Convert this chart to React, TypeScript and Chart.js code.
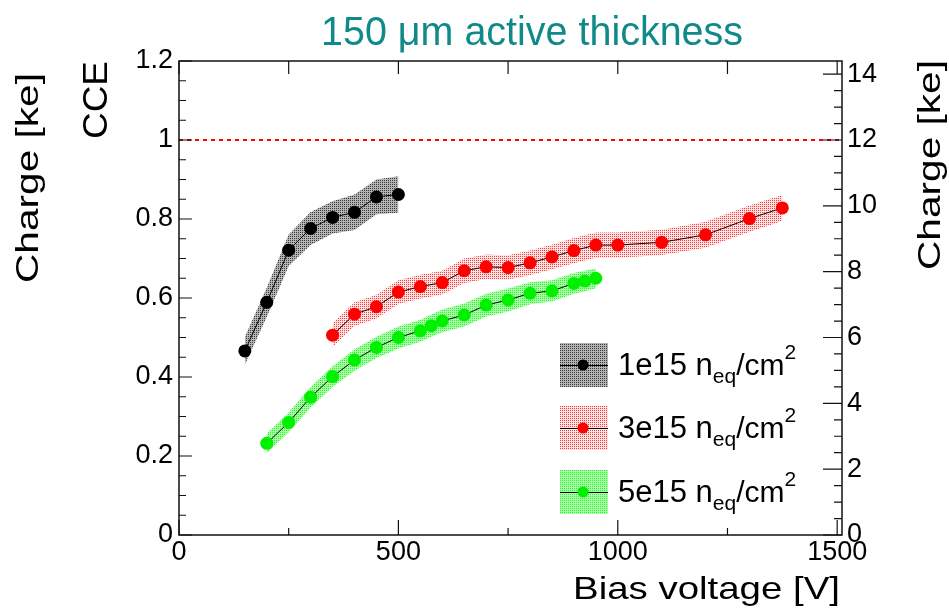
import { useEffect, useRef } from "react";
import { Chart, registerables } from "chart.js";

Chart.register(...registerables);

// ---------- text ----------
const TITLE = "150 \u03bcm active thickness";
const X_TITLE = "Bias voltage [V]";
const Y_TITLE_LEFT = "Charge [ke]";
const Y_TITLE_LEFT_INNER = "CCE";
const Y_TITLE_RIGHT = "Charge [ke]";

// ---------- ticks ----------
const X_TICKS = [0, 500, 1000, 1500];
const Y_TICKS = [0, 0.2, 0.4, 0.6, 0.8, 1, 1.2];
const Y2_TICKS = [0, 2, 4, 6, 8, 10, 12, 14];
const REFERENCE_CCE = 1;

// ---------- series ----------
const FLUENCES = ["1e15", "3e15", "5e15"];
const COLORS = ["#000000", "#ff0000", "#00f000"];

const V_1E15 = [150, 200, 250, 300, 350, 400, 450, 500];
const CCE_1E15 = [0.466, 0.589, 0.721, 0.776, 0.804, 0.817, 0.856, 0.862];
const ERR_1E15 = [0.035, 0.037, 0.04, 0.042, 0.041, 0.045, 0.044, 0.046];

const V_3E15 = [350, 400, 450, 500, 550, 600, 650, 700, 750, 800, 850, 900, 950, 1000, 1100, 1200, 1300, 1375];
const CCE_3E15 = [0.506, 0.559, 0.578, 0.615, 0.629, 0.639, 0.669, 0.679, 0.677, 0.689, 0.704, 0.72, 0.734, 0.734, 0.741, 0.76, 0.801, 0.828];
const ERR_3E15 = [0.03, 0.03, 0.03, 0.03, 0.03, 0.03, 0.031, 0.031, 0.031, 0.031, 0.031, 0.032, 0.032, 0.032, 0.032, 0.033, 0.033, 0.033];

const V_5E15 = [200, 250, 300, 350, 400, 450, 500, 550, 575, 600, 650, 700, 750, 800, 850, 900, 925, 950];
const CCE_5E15 = [0.232, 0.285, 0.349, 0.401, 0.443, 0.475, 0.5, 0.517, 0.53, 0.542, 0.557, 0.582, 0.595, 0.612, 0.618, 0.637, 0.643, 0.65];
const ERR_5E15 = [0.025, 0.025, 0.026, 0.026, 0.027, 0.027, 0.028, 0.028, 0.028, 0.029, 0.029, 0.029, 0.029, 0.028, 0.027, 0.026, 0.026, 0.025];

const SERIES = [
  { v: V_1E15, cce: CCE_1E15, err: ERR_1E15 },
  { v: V_3E15, cce: CCE_3E15, err: ERR_3E15 },
  { v: V_5E15, cce: CCE_5E15, err: ERR_5E15 },
];

const FONT = "'Liberation Sans', Arial, Helvetica, sans-serif";

function makePattern(bg: string, dot: string) {
  const c = document.createElement("canvas");
  c.width = 2;
  c.height = 2;
  const g = c.getContext("2d")!;
  g.fillStyle = bg;
  g.fillRect(0, 0, 2, 2);
  g.fillStyle = dot;
  g.fillRect(0, 0, 1, 1);
  return g.createPattern(c, "repeat")!;
}

function drawText(
  ctx: CanvasRenderingContext2D,
  text: string,
  x: number,
  y: number,
  size: number,
  opts: { align?: CanvasTextAlign; rotate?: boolean; width?: number; color?: string } = {}
) {
  ctx.save();
  ctx.font = `${size}px ${FONT}`;
  ctx.fillStyle = opts.color || "#000";
  ctx.textAlign = opts.align || "left";
  ctx.textBaseline = "alphabetic";
  ctx.translate(x, y);
  if (opts.rotate) ctx.rotate(-Math.PI / 2);
  if (opts.width) {
    const w = ctx.measureText(text).width;
    ctx.scale(opts.width / w, 1);
  }
  ctx.fillText(text, 0, 0);
  ctx.restore();
}

export default function App() {
  const ref = useRef<HTMLCanvasElement | null>(null);

  useEffect(() => {
    const canvas = ref.current!;
    const patterns = [
      makePattern("#b4b4b4", "#3a3a3a"),
      makePattern("#ffe2e2", "#ff3a3a"),
      makePattern("#a8ffa8", "#30f030"),
    ];

    const datasets: any[] = [];
    SERIES.forEach((s, i) => {
      datasets.push({
        label: `band-up-${i}`,
        data: s.v.map((v, k) => ({ x: v, y: s.cce[k] + s.err[k] })),
        borderColor: "rgba(0,0,0,0)",
        borderWidth: 0,
        pointRadius: 0,
        backgroundColor: patterns[i],
        fill: "+1",
        order: 3,
        yAxisID: "y",
      });
      datasets.push({
        label: `band-low-${i}`,
        data: s.v.map((v, k) => ({ x: v, y: s.cce[k] - s.err[k] })),
        borderColor: "rgba(0,0,0,0)",
        borderWidth: 0,
        pointRadius: 0,
        fill: false,
        order: 3,
        yAxisID: "y",
      });
    });
    SERIES.forEach((s, i) => {
      datasets.push({
        label: `${FLUENCES[i]} neq/cm2`,
        data: s.v.map((v, k) => ({ x: v, y: s.cce[k] })),
        borderColor: "#000",
        borderWidth: 1,
        pointRadius: 6.5,
        pointBackgroundColor: COLORS[i],
        pointBorderWidth: 0,
        fill: false,
        order: 1,
        yAxisID: "y",
      });
    });

    const decor = {
      id: "rootDecor",
      beforeDatasetsDraw(chart: any) {
        const ctx = chart.ctx as CanvasRenderingContext2D;
        const a = chart.chartArea;
        const y = chart.scales.y;
        const py = Math.round(y.getPixelForValue(REFERENCE_CCE));
        ctx.save();
        ctx.strokeStyle = "#ff0000";
        ctx.lineWidth = 2;
        ctx.setLineDash([4, 4]);
        ctx.beginPath();
        ctx.moveTo(a.left, py);
        ctx.lineTo(a.right, py);
        ctx.stroke();
        ctx.restore();
      },
      afterDatasetsDraw(chart: any) {
        const ctx = chart.ctx as CanvasRenderingContext2D;
        const a = chart.chartArea;
        const x = chart.scales.x;
        const y = chart.scales.y;
        const y2 = chart.scales.y2;
        ctx.save();
        ctx.strokeStyle = "#111";
        ctx.lineWidth = 1.5;
        ctx.strokeRect(a.left, a.top, a.right - a.left, a.bottom - a.top);
        ctx.lineWidth = 1.2;
        ctx.beginPath();
        for (let i = 0; i <= 24; i++) {
          const p = y.getPixelForValue(i * 0.05);
          const len = i % 4 === 0 ? 13 : 7;
          ctx.moveTo(a.left, p);
          ctx.lineTo(a.left + len, p);
        }
        for (let i = 0; i <= 28; i++) {
          const p = y2.getPixelForValue(i * 0.5);
          const len = i % 4 === 0 ? 19 : 8;
          ctx.moveTo(a.right, p);
          ctx.lineTo(a.right - len, p);
        }
        for (let i = 0; i <= 6; i++) {
          const p = x.getPixelForValue(i * 250);
          const len = i % 2 === 0 ? 15 : 7;
          ctx.moveTo(p, a.bottom);
          ctx.lineTo(p, a.bottom - len);
          ctx.moveTo(p, a.top);
          ctx.lineTo(p, a.top + 13);
        }
        ctx.stroke();
        ctx.restore();

        // legend
        const rows = [365, 428, 492];
        rows.forEach((ry, i) => {
          ctx.save();
          ctx.fillStyle = patterns[i];
          ctx.fillRect(560, ry - 22, 48, 44);
          ctx.strokeStyle = "#000";
          ctx.lineWidth = 1;
          ctx.beginPath();
          ctx.moveTo(560, ry + 0.5);
          ctx.lineTo(608, ry + 0.5);
          ctx.stroke();
          ctx.fillStyle = COLORS[i];
          ctx.beginPath();
          ctx.arc(583, ry, 5.5, 0, Math.PI * 2);
          ctx.fill();
          ctx.restore();

          ctx.save();
          ctx.fillStyle = "#000";
          ctx.textBaseline = "alphabetic";
          let tx = 618;
          const base = ry + 10;
          ctx.font = `31px ${FONT}`;
          const main = `${FLUENCES[i]} n`;
          ctx.fillText(main, tx, base);
          tx += ctx.measureText(main).width;
          ctx.font = `21px ${FONT}`;
          ctx.fillText("eq", tx, base + 8);
          tx += ctx.measureText("eq").width;
          ctx.font = `30px ${FONT}`;
          ctx.fillText("/cm", tx, base);
          tx += ctx.measureText("/cm").width;
          ctx.font = `21px ${FONT}`;
          ctx.fillText("2", tx, base - 16);
          ctx.restore();
        });
      },
      afterDraw(chart: any) {
        const ctx = chart.ctx as CanvasRenderingContext2D;
        drawText(ctx, TITLE, 532, 45, 40, { align: "center", width: 422, color: "#108a88" });
        drawText(ctx, X_TITLE, 840, 599, 32, { align: "right", width: 267 });
        drawText(ctx, Y_TITLE_LEFT, 38, 178, 32, { align: "center", rotate: true, width: 210 });
        drawText(ctx, Y_TITLE_LEFT_INNER, 107, 100, 35, { align: "center", rotate: true, width: 78 });
        drawText(ctx, Y_TITLE_RIGHT, 940, 165, 32, { align: "center", rotate: true, width: 210 });
      },
    };

    const tickFont = { family: FONT, size: 27 };
    const chart = new Chart(canvas, {
      type: "line",
      data: { datasets },
      plugins: [decor],
      options: {
        responsive: false,
        devicePixelRatio: 1,
        animation: false,
        layout: { padding: { top: 61, left: 0, right: 0, bottom: 0 } },
        plugins: { legend: { display: false }, tooltip: { enabled: false } },
        elements: { line: { tension: 0 } },
        scales: {
          x: {
            type: "linear",
            position: "bottom",
            min: 0,
            max: 1511,
            grid: { display: false, drawTicks: false },
            border: { display: false },
            ticks: { font: tickFont, color: "#000", padding: 1, maxRotation: 0, callback: (v: any) => String(v) },
            afterBuildTicks: (s: any) => {
              s.ticks = X_TICKS.map((v) => ({ value: v }));
            },
            afterFit: (s: any) => {
              s.height = 75;
            },
          },
          y: {
            type: "linear",
            position: "left",
            min: 0,
            max: 1.2,
            grid: { display: false, drawTicks: false },
            border: { display: false },
            ticks: { font: tickFont, color: "#000", padding: 6, callback: (v: any) => String(v) },
            afterBuildTicks: (s: any) => {
              s.ticks = Y_TICKS.map((v) => ({ value: v }));
            },
            afterFit: (s: any) => {
              s.width = 179;
            },
          },
          y2: {
            type: "linear",
            position: "right",
            min: 0,
            max: 14.4,
            grid: { display: false, drawTicks: false },
            border: { display: false },
            ticks: { font: tickFont, color: "#000", padding: 5, callback: (v: any) => String(v) },
            afterBuildTicks: (s: any) => {
              s.ticks = Y2_TICKS.map((v) => ({ value: v }));
            },
            afterFit: (s: any) => {
              s.width = 107;
            },
          },
        },
      } as any,
    });
    return () => chart.destroy();
  }, []);

  return (
    <div style={{ position: "absolute", left: 0, top: 0, width: 949, height: 610, background: "#fff" }}>
      <canvas ref={ref} width={949} height={610} style={{ display: "block", width: 949, height: 610 }} />
    </div>
  );
}
